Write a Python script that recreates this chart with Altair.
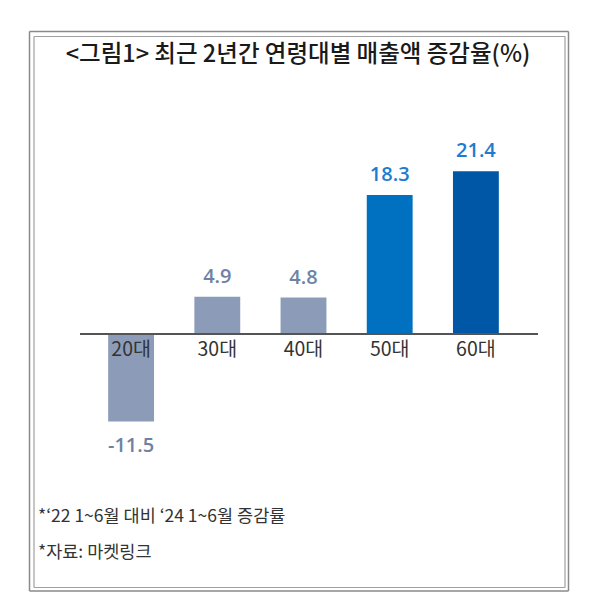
import altair as alt
import pandas as pd

ages = ["20대", "30대", "40대", "50대", "60대"]
values = [-11.5, 4.9, 4.8, 18.3, 21.4]
title_text = "<그림1> 최근 2년간 연령대별 매출액 증감율(%)"
note1 = "*‘22 1~6월 대비 ‘24 1~6월 증감률"
note2 = "*자료: 마켓링크"

df = pd.DataFrame({"age": ages, "value": values})
one = pd.DataFrame({"k": [0]})

GB = "#8C9CB8"
bar_range = [GB, GB, GB, "#0070C0", "#0057A6"]

xenc = alt.X("age:N", sort=ages, axis=None,
             scale=alt.Scale(paddingInner=0.468, paddingOuter=0.234))
yscale = alt.Scale(domain=[-15, 25], nice=False)
yenc = alt.Y("value:Q", axis=None, scale=yscale)

base = alt.Chart(df)

bars = base.mark_bar().encode(
    x=xenc, y=yenc,
    color=alt.Color("age:N", scale=alt.Scale(domain=ages, range=bar_range), legend=None),
)


def labels(filter_expr, color, dy):
    return base.transform_filter(filter_expr).transform_calculate(
        lbl="'' + datum.value"
    ).mark_text(
        font="Open Sans", fontSize=20, fontWeight=600, baseline="middle", dy=dy, color=color
    ).encode(x=xenc, y=yenc, text="lbl:N")


hl = "indexof(['50대','60대'], datum.age) >= 0"
lab_hi = labels(hl + " && datum.value >= 0", "#1E7BCF", -20)
lab_lo_pos = labels("!(" + hl + ") && datum.value >= 0", "#7082A4", -20)
lab_lo_neg = labels("!(" + hl + ") && datum.value < 0", "#7082A4", 25)

cat_labels = base.transform_calculate(zero="0").mark_text(
    font="Noto Sans CJK KR", fontSize=19.5, baseline="middle", dy=16, color="#333333"
).encode(x=xenc, y=alt.Y("zero:Q", axis=None, scale=yscale), text="age:N")

zero_rule = base.transform_calculate(zero="0").mark_rule(color="#555555", strokeWidth=1.5).encode(
    x=alt.value(-8), x2=alt.value(450), y=alt.Y("zero:Q", axis=None, scale=yscale)
)


def box(x1, x2, y1, y2, color, w):
    c = alt.Chart(one)
    return [
        c.mark_rule(color=color, strokeWidth=w).encode(x=alt.value(x1), x2=alt.value(x2), y=alt.value(y1)),
        c.mark_rule(color=color, strokeWidth=w).encode(x=alt.value(x1), x2=alt.value(x2), y=alt.value(y2)),
        c.mark_rule(color=color, strokeWidth=w).encode(x=alt.value(x1), y=alt.value(y1), y2=alt.value(y2)),
        c.mark_rule(color=color, strokeWidth=w).encode(x=alt.value(x2), y=alt.value(y1), y2=alt.value(y2)),
    ]


frame = box(-58.5, 480.5, -112.5, 447, "#8A8A8A", 1.5) + box(-54, 477, -107.5, 443.5, "#A0A0A0", 1.2)

title = alt.Chart(one).mark_text(
    text=title_text, font="Noto Sans CJK KR", fontSize=23.5, fontWeight=500,
    align="center", baseline="middle", color="#1A1A1A"
).encode(x=alt.value(210), y=alt.value(-89))

foot1 = alt.Chart(one).mark_text(
    text=note1, font="Noto Sans CJK KR", fontSize=17.5, align="left",
    baseline="middle", color="#333333"
).encode(x=alt.value(-50), y=alt.value(373))

foot2 = alt.Chart(one).mark_text(
    text=note2, font="Noto Sans CJK KR", fontSize=17.5, align="left",
    baseline="middle", color="#333333"
).encode(x=alt.value(-50), y=alt.value(409))

chart = alt.layer(
    *frame, bars, zero_rule, cat_labels, lab_hi, lab_lo_pos, lab_lo_neg,
    title, foot1, foot2
).properties(
    width=431, height=304,
    autosize=alt.AutoSizeParams(type="none"),
    padding={"left": 80, "top": 136, "right": 73, "bottom": 148},
    background="white",
).configure_view(stroke=None)

chart.save("out.html", embed_options={"renderer": "svg", "actions": False})
